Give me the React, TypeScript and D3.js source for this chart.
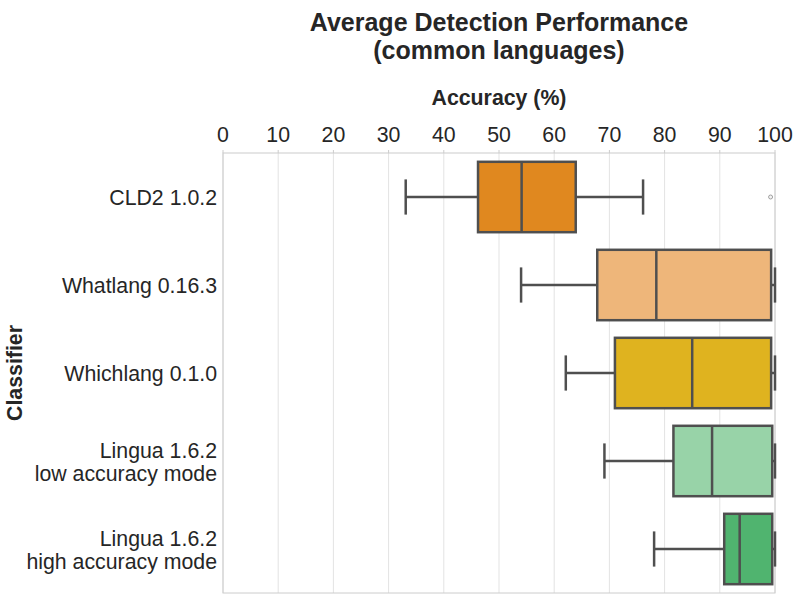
import React from "react";
import * as d3 from "d3";

const classifiers = [
  ["CLD2 1.0.2"],
  ["Whatlang 0.16.3"],
  ["Whichlang 0.1.0"],
  ["Lingua 1.6.2", "low accuracy mode"],
  ["Lingua 1.6.2", "high accuracy mode"],
];
const whiskerLow = [33.1, 54.0, 62.1, 69.1, 78.1];
const q1 = [46.2, 67.8, 71.0, 81.6, 90.8];
const median = [54.1, 78.5, 85.0, 88.6, 93.6];
const q3 = [63.9, 99.3, 99.3, 99.5, 99.5];
const whiskerHigh = [76.1, 100, 100, 100, 100];
const outliers = [[99.2], [], [], [], []];
const colors = ["#e0881f", "#eeb67a", "#dfb31f", "#98d3a8", "#50b46f"];
const xTicks = [0, 10, 20, 30, 40, 50, 60, 70, 80, 90, 100];

const W = 800, H = 600;
const M = { left: 223, right: 775, top: 153, bottom: 593 };
const FONT = "'Liberation Sans', Arial, sans-serif";
const EDGE = "#4f4f4f";
const FS = 21.3;

export default function App() {
  const x = d3.scaleLinear().domain([0, 100]).range([M.left, M.right]);
  const idx = classifiers.map((_, i) => String(i));
  const y = d3.scaleBand().domain(idx).range([M.top, M.bottom]).paddingInner(0.2).paddingOuter(0.1);
  const bw = y.bandwidth();
  return (
    <svg width={W} height={H} style={{ position: "absolute", left: 0, top: 0, background: "#fff" }} fontFamily={FONT}>
      <rect x={0} y={0} width={W} height={H} fill="#fff" />
      {xTicks.map((t) => (
        <g key={t}>
          <line x1={x(t)} x2={x(t)} y1={M.top} y2={M.bottom} stroke="#e3e3e3" strokeWidth={1} />
          <line x1={x(t)} x2={x(t)} y1={M.top - 3} y2={M.top} stroke="#cccccc" strokeWidth={1} />
          <text x={x(t)} y={142} textAnchor="middle" fontSize={FS} fill="#262626">{t}</text>
        </g>
      ))}
      <rect x={M.left} y={M.top} width={M.right - M.left} height={M.bottom - M.top} fill="none" stroke="#cccccc" strokeWidth={1} />
      {idx.map((k, i) => {
        const y0 = y(k)!;
        const cy = y0 + bw / 2;
        return (
          <g key={k}>
            <line x1={x(whiskerLow[i])} x2={x(q1[i])} y1={cy} y2={cy} stroke={EDGE} strokeWidth={2.5} />
            <line x1={x(q3[i])} x2={x(whiskerHigh[i])} y1={cy} y2={cy} stroke={EDGE} strokeWidth={2.5} />
            <line x1={x(whiskerLow[i])} x2={x(whiskerLow[i])} y1={cy - bw / 4} y2={cy + bw / 4} stroke={EDGE} strokeWidth={2.5} />
            <line x1={x(whiskerHigh[i])} x2={x(whiskerHigh[i])} y1={cy - bw / 4} y2={cy + bw / 4} stroke={EDGE} strokeWidth={2.5} />
            <rect x={x(q1[i])} y={y0} width={x(q3[i]) - x(q1[i])} height={bw} fill={colors[i]} stroke={EDGE} strokeWidth={2.5} />
            <line x1={x(median[i])} x2={x(median[i])} y1={y0} y2={y0 + bw} stroke={EDGE} strokeWidth={2.5} />
            {outliers[i].map((o, j) => (
              <circle key={j} cx={x(o)} cy={cy} r={2} fill="#f4f4f4" stroke="#8a8a8a" strokeWidth={0.8} />
            ))}
            {classifiers[i].length === 1 ? (
              <text x={217} y={cy + 7.5} textAnchor="end" fontSize={FS} fill="#262626">{classifiers[i][0]}</text>
            ) : (
              <text x={217} textAnchor="end" fontSize={FS} fill="#262626">
                <tspan x={217} y={cy - 3}>{classifiers[i][0]}</tspan>
                <tspan x={217} y={cy + 20}>{classifiers[i][1]}</tspan>
              </text>
            )}
          </g>
        );
      })}
      <text x={499} y={31} textAnchor="middle" fontSize={25} fontWeight="bold" fill="#262626">Average Detection Performance</text>
      <text x={499} y={59} textAnchor="middle" fontSize={25} fontWeight="bold" fill="#262626">(common languages)</text>
      <text x={499} y={105} textAnchor="middle" fontSize={FS} fontWeight="bold" fill="#262626">Accuracy (%)</text>
      <text transform={`translate(22,373) rotate(-90)`} textAnchor="middle" fontSize={FS} fontWeight="bold" fill="#262626">Classifier</text>
    </svg>
  );
}
